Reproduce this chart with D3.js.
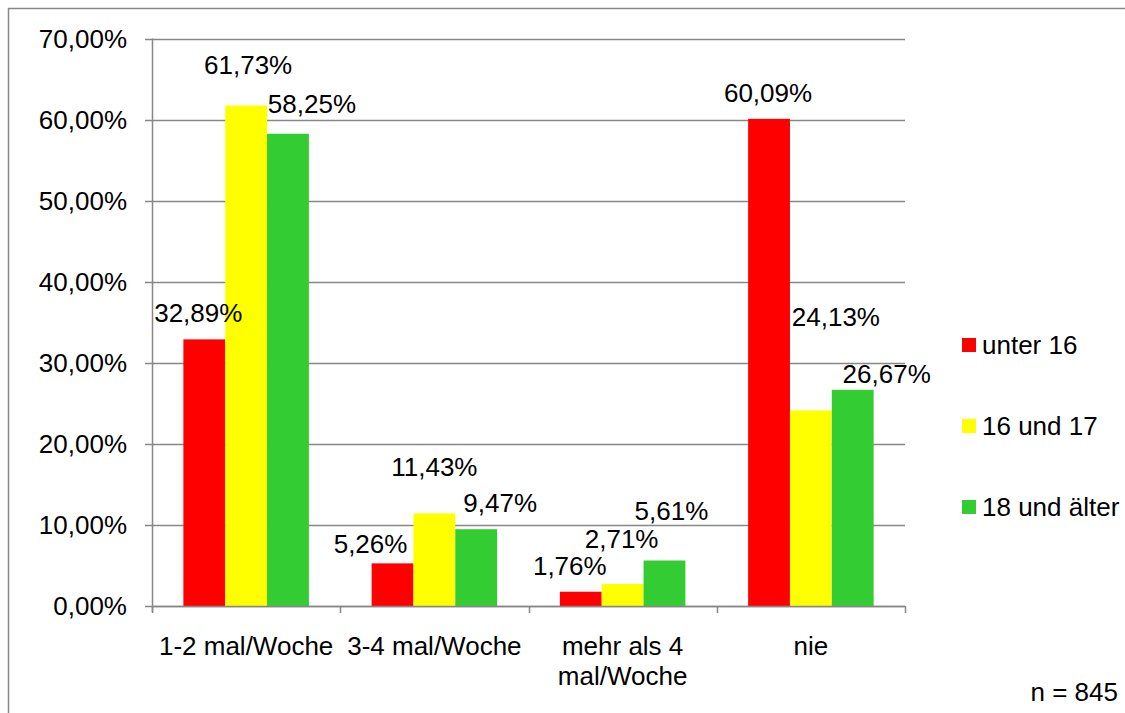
<!DOCTYPE html>
<html>
<head>
<meta charset="utf-8">
<script src="https://cdn.jsdelivr.net/npm/d3@7"></script>
<style>
  html, body { margin: 0; padding: 0; background: #fff; }
  svg { display: block; font-family: "Liberation Sans", Arial, sans-serif; }
</style>
</head>
<body>
<svg id="chart" width="1125" height="713"></svg>
<script>
// Chart data
const categories = [["1-2 mal/Woche"], ["3-4 mal/Woche"], ["mehr als 4", "mal/Woche"], ["nie"]];
const seriesNames = ["unter 16", "16 und 17", "18 und älter"];
const unter16 = [32.89, 5.26, 1.76, 60.09];
const sechzehnSiebzehn = [61.73, 11.43, 2.71, 24.13];
const achtzehnAelter = [58.25, 9.47, 5.61, 26.67];
const yTicks = [0, 10, 20, 30, 40, 50, 60, 70];
const sampleNote = "n = 845";

// Styling / layout
const colors = ["#ff0000", "#ffff00", "#33cc33"];
const axisGray = "#878787";
const fontSize = 26;
// label offsets [dx, dy] from the top-centre of each bar, per series
const labelOffsets = [
  [[-6, -17], [-22, -10], [-11, -17], [-1, -17]],
  [[2, -32], [0, -37], [-1, -36], [25, -84]],
  [[24, -21], [24, -17], [7, -41], [34, -7]]
];

const series = [unter16, sechzehnSiebzehn, achtzehnAelter];
const svg = d3.select("#chart");

// outer frame
svg.append("rect")
  .attr("x", 8.5).attr("y", 8.5)
  .attr("width", 1200).attr("height", 800)
  .attr("fill", "none").attr("stroke", axisGray).attr("stroke-width", 1.5);

const plot = { left: 152, right: 905, top: 38.5, bottom: 606 };

const x0 = d3.scaleBand()
  .domain(d3.range(categories.length))
  .range([plot.left, plot.right])
  .paddingInner(0).paddingOuter(0);

const x1 = d3.scaleBand()
  .domain(d3.range(series.length))
  .range([x0.bandwidth() / 6, x0.bandwidth() * 5 / 6])
  .padding(0);

const y = d3.scaleLinear().domain([0, 70]).range([plot.bottom, plot.top]);

// gridlines and y ticks
const grid = svg.append("g");
yTicks.forEach(t => {
  grid.append("line")
    .attr("x1", plot.left - 7).attr("x2", plot.right)
    .attr("y1", Math.round(y(t)) + 0.5).attr("y2", Math.round(y(t)) + 0.5)
    .attr("stroke", axisGray).attr("stroke-width", 1.5);
  grid.append("text")
    .attr("x", 127).attr("y", y(t) + 9.3)
    .attr("text-anchor", "end")
    .attr("font-size", fontSize).attr("fill", "#000")
    .text(t.toFixed(2).replace(".", ",") + "%");
});

// bars
const groups = svg.append("g").selectAll("g")
  .data(categories)
  .join("g")
  .attr("transform", (d, i) => `translate(${x0(i)},0)`);

groups.selectAll("rect")
  .data((d, i) => series.map((s, k) => ({ k, i, v: s[i] })))
  .join("rect")
  .attr("x", d => x1(d.k))
  .attr("width", x1.bandwidth())
  .attr("y", d => y(d.v))
  .attr("height", d => y(0) - y(d.v))
  .attr("fill", d => colors[d.k]);

// value labels
groups.selectAll("text.val")
  .data((d, i) => series.map((s, k) => ({ k, i, v: s[i] })))
  .join("text")
  .attr("class", "val")
  .attr("x", d => x1(d.k) + x1.bandwidth() / 2 + labelOffsets[d.k][d.i][0])
  .attr("y", d => y(d.v) + labelOffsets[d.k][d.i][1])
  .attr("text-anchor", "middle")
  .attr("font-size", fontSize).attr("fill", "#000")
  .text(d => d.v.toFixed(2).replace(".", ",") + "%");

// axes lines
svg.append("line")
  .attr("x1", plot.left + 0.5).attr("x2", plot.left + 0.5)
  .attr("y1", plot.top).attr("y2", plot.bottom + 6)
  .attr("stroke", axisGray).attr("stroke-width", 1.5);
svg.append("line")
  .attr("x1", plot.left).attr("x2", plot.right)
  .attr("y1", plot.bottom + 0.5).attr("y2", plot.bottom + 0.5)
  .attr("stroke", axisGray).attr("stroke-width", 1.5);

// x ticks at category boundaries
d3.range(categories.length + 1).forEach(i => {
  const xx = Math.round(plot.left + i * x0.bandwidth()) + 0.5;
  svg.append("line")
    .attr("x1", xx).attr("x2", xx)
    .attr("y1", plot.bottom).attr("y2", plot.bottom + 7)
    .attr("stroke", axisGray).attr("stroke-width", 1.5);
});

// category labels
categories.forEach((lines, i) => {
  const t = svg.append("text")
    .attr("x", x0(i) + x0.bandwidth() / 2)
    .attr("y", 655)
    .attr("text-anchor", "middle")
    .attr("font-size", fontSize).attr("fill", "#000");
  lines.forEach((ln, j) => {
    t.append("tspan")
      .attr("x", x0(i) + x0.bandwidth() / 2)
      .attr("dy", j === 0 ? 0 : 30)
      .text(ln);
  });
});

// legend
const legend = svg.append("g").attr("transform", "translate(962,338)");
seriesNames.forEach((name, k) => {
  const g = legend.append("g").attr("transform", `translate(0,${k * 81})`);
  g.append("rect").attr("width", 14).attr("height", 14).attr("fill", colors[k]);
  g.append("text")
    .attr("x", 20).attr("y", 16)
    .attr("font-size", fontSize).attr("fill", "#000")
    .text(name);
});

// sample size note
svg.append("text")
  .attr("x", 1118).attr("y", 701)
  .attr("text-anchor", "end")
  .attr("font-size", fontSize).attr("fill", "#000")
  .text(sampleNote);
</script>
</body>
</html>
